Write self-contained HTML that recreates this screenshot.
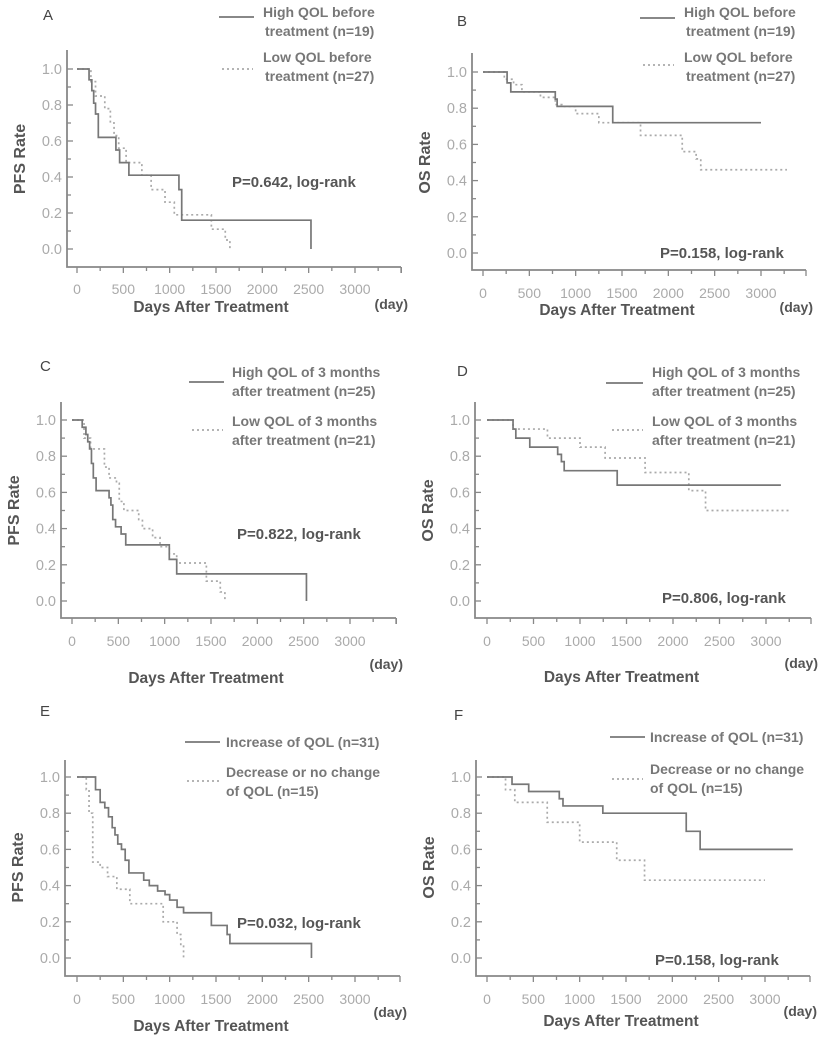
<!DOCTYPE html>
<html><head><meta charset="utf-8"><style>
body{margin:0;background:#fff}
svg{display:block;font-family:"Liberation Sans",sans-serif}
</style></head><body>
<svg id="fig" width="827" height="1038" viewBox="0 0 827 1038"></svg>
<script>
// ---- data ----
const xTicks=[0,500,1000,1500,2000,2500,3000];
const yTicks=[0.0,0.2,0.4,0.6,0.8,1.0];
const aHighT=[0,130,160,180,200,230,420,460,560,1100,1130,2525];
const aHighS=[1,0.94,0.88,0.81,0.75,0.62,0.55,0.48,0.41,0.33,0.16,0];
const aLowT=[0,150,200,300,360,400,450,530,700,800,950,1050,1450,1600,1650];
const aLowS=[1,0.93,0.85,0.78,0.7,0.63,0.56,0.48,0.41,0.33,0.26,0.19,0.11,0.05,0];
const bHighT=[0,260,300,780,800,1400];
const bHighS=[1,0.94,0.89,0.85,0.81,0.72];
const bLowT=[0,230,330,420,620,780,850,1000,1250,1700,2150,2300,2350];
const bLowS=[1,0.96,0.93,0.89,0.86,0.82,0.81,0.77,0.72,0.65,0.56,0.52,0.46];
const cHighT=[0,110,150,170,190,210,230,260,400,420,440,470,530,580,1050,1130,2530];
const cHighS=[1,0.96,0.92,0.88,0.84,0.76,0.68,0.61,0.57,0.53,0.45,0.41,0.37,0.31,0.23,0.15,0];
const cLowT=[0,130,200,350,400,480,510,560,720,760,870,950,1050,1130,1450,1600,1650];
const cLowS=[1,0.9,0.84,0.74,0.68,0.65,0.55,0.5,0.45,0.4,0.35,0.3,0.26,0.21,0.11,0.05,0];
const dHighT=[0,280,310,460,760,800,830,1400];
const dHighS=[1,0.95,0.9,0.85,0.81,0.77,0.72,0.64];
const dLowT=[0,280,650,1000,1270,1700,2170,2350];
const dLowS=[1,0.95,0.9,0.85,0.79,0.71,0.61,0.5];
const eHighT=[0,200,250,300,340,380,410,440,480,520,560,720,780,870,950,1000,1080,1150,1450,1620,1650,2530];
const eHighS=[1,0.93,0.86,0.83,0.78,0.72,0.68,0.63,0.6,0.54,0.47,0.43,0.4,0.37,0.35,0.32,0.28,0.25,0.18,0.13,0.08,0];
const eLowT=[0,100,130,170,250,330,430,570,930,1080,1120,1150];
const eLowS=[1,0.93,0.8,0.53,0.5,0.45,0.38,0.3,0.2,0.13,0.07,0];
const fHighT=[0,270,450,780,820,1250,2150,2300];
const fHighS=[1,0.96,0.92,0.88,0.84,0.8,0.7,0.6];
const fLowT=[0,200,300,650,1000,1400,1700];
const fLowS=[1,0.93,0.86,0.75,0.64,0.54,0.43];

const panels=[
 {id:'a',L:'A',lx:43,ly:15,ax:67,ay:267,top:50,xe:401,x0:77,x3:355,y1:69,y0:249,yt:'PFS Rate',
  hi:[aHighT,aHighS,null],lo:[aLowT,aLowS,null],
  leg:[[219,254,17,'High QOL before','treatment (n=19)',12],[222,253,69,'Low QOL before','treatment (n=27)',57]],lt:263,
  p:'P=0.642, log-rank',px:232,py:187,tl:294,tt:312,dy:309},
 {id:'b',L:'B',lx:457,ly:21,ax:472,ay:270,top:53,xe:806,x0:483,x3:761,y1:72,y0:253,yt:'OS Rate',
  hi:[bHighT,bHighS,3000],lo:[bLowT,bLowS,3280],
  leg:[[640,675,18,'High QOL before','treatment (n=19)',12],[643,674,65,'Low QOL before','treatment (n=27)',57]],lt:684,
  p:'P=0.158, log-rank',px:660,py:258,tl:298,tt:315,dy:312},
 {id:'c',L:'C',lx:40,ly:366,ax:61,ay:618,top:402,xe:396,x0:72,x3:350,y1:420,y0:601,yt:'PFS Rate',
  hi:[cHighT,cHighS,null],lo:[cLowT,cLowS,null],
  leg:[[189,224,382,'High QOL  of 3 months','after treatment (n=25)',372],[192,223,430,'Low QOL  of 3 months','after treatment (n=21)',421]],lt:232,
  p:'P=0.822, log-rank',px:237,py:539,tl:646,tt:683,dy:669},
 {id:'d',L:'D',lx:457,ly:371,ax:475,ay:618,top:402,xe:811,x0:487,x3:766,y1:420,y0:601,yt:'OS Rate',
  hi:[dHighT,dHighS,3160],lo:[dLowT,dLowS,3250],
  leg:[[606,643,383,'High QOL  of 3 months','after treatment (n=25)',372],[612,643,430,'Low QOL  of 3 months','after treatment (n=21)',421]],lt:652,
  p:'P=0.806, log-rank',px:662,py:603,tl:646,tt:682,dy:668},
 {id:'e',L:'E',lx:40,ly:711,ax:65,ay:976,top:760,xe:400,x0:77,x3:355,y1:777,y0:958,yt:'PFS Rate',
  hi:[eHighT,eHighS,null],lo:[eLowT,eLowS,null],
  leg:[[185,220,742,'Increase of QOL  (n=31)',null,742],[187,220,781,'Decrease or no change','of QOL   (n=15)',772]],lt:226,
  p:'P=0.032, log-rank',px:237,py:928,tl:1004,tt:1031,dy:1017},
 {id:'f',L:'F',lx:454,ly:715,ax:476,ay:976,top:760,xe:810,x0:487,x3:765,y1:777,y0:958,yt:'OS Rate',
  hi:[fHighT,fHighS,3300],lo:[fLowT,fLowS,3000],
  leg:[[610,645,737,'Increase of QOL  (n=31)',null,737],[612,643,779,'Decrease or no change','of QOL   (n=15)',769]],lt:650,
  p:'P=0.158, log-rank',px:655,py:965,tl:1004,tt:1026,dy:1016}
];
const NS='http://www.w3.org/2000/svg';
const svg=document.getElementById('fig');
function mk(tag,at,parent){const e=document.createElementNS(NS,tag);for(const k in at)e.setAttribute(k,at[k]);(parent||svg).appendChild(e);return e;}
function txt(s,at,parent){const e=mk('text',at,parent);e.textContent=s;return e;}
function stepPath(T,S,end,sx,sy){
  let d='M'+sx(T[0])+','+sy(S[0]);
  for(let i=1;i<T.length;i++){d+=' H'+sx(T[i])+' V'+sy(S[i]);}
  if(end!=null)d+=' H'+sx(end);
  return d;
}
panels.forEach(p=>{
  const g=mk('g',{});
  
  
  const sx=t=>p.x0+(t/3000)*(p.x3-p.x0);
  const sy=v=>p.y0-v*(p.y0-p.y1);
  const lab=txt(p.L,{x:p.lx,y:p.ly+5,'font-size':15,fill:'#444'},g);
  
  
  const ax=mk('path',{d:`M${p.ax},${p.top} V${p.ay} H${p.xe}`,stroke:'#888','stroke-width':1.8,fill:'none'},g);
  
  
  for(let t=0;t<=3500;t+=250){
    const x=sx(t); if(x>p.xe+1)break;
    mk('line',{x1:x,x2:x,y1:p.ay,y2:p.ay+(t%500===0?6:4),stroke:'#888','stroke-width':1.3},g);
  }
  mk('line',{x1:p.xe,x2:p.xe,y1:p.ay,y2:p.ay+6,stroke:'#888','stroke-width':1.3},g);
  xTicks.forEach(t=>{const e=txt(String(t),{x:sx(t),y:p.tl,'font-size':14,fill:'#aaa','text-anchor':'middle'},g);
    });
  for(let v=0;v<=10;v++){const y=sy(v/10);mk('line',{x1:p.ax,x2:p.ax+(v%2===0?6:4),y1:y,y2:y,stroke:'#888','stroke-width':1.3},g);}
  yTicks.forEach(v=>{const e=txt(v.toFixed(1),{x:p.ax-5,y:sy(v)+5,'font-size':14.5,fill:'#aaa','text-anchor':'end'},g);
    });
  const yt=txt(p.yt,{x:0,y:0,'font-size':16,'font-weight':'bold',fill:'#555','text-anchor':'middle',transform:`translate(${p.ax-42},${(p.y0+p.y1)/2}) rotate(-90)`},g);
  
  const xt=txt('Days After Treatment',{x:(p.x0+p.x3)/2-5,y:p.tt,'font-size':15.5,'font-weight':'bold',fill:'#555','text-anchor':'middle'},g);
  
  const du=txt('(day)',{x:p.xe+7,y:p.dy,'font-size':14,'font-weight':'bold',fill:'#555','text-anchor':'end'},g);
  
  const lo=mk('path',{d:stepPath(p.lo[0],p.lo[1],p.lo[2],sx,sy),stroke:'#aaa','stroke-width':1.7,fill:'none','stroke-dasharray':'2 3'},g);
  
  const hi=mk('path',{d:stepPath(p.hi[0],p.hi[1],p.hi[2],sx,sy),stroke:'#777','stroke-width':1.7,fill:'none'},g);
  
  p.leg.forEach((l,i)=>{
    const lg=mk('g',{},g);
    
    
    mk('line',{x1:l[0],x2:l[1],y1:l[2],y2:l[2],stroke:i?'#aaa':'#777','stroke-width':1.7,'stroke-dasharray':i?'2 3':'none'},lg);
    txt(l[3],{x:p.lt,y:l[5]+5,'font-size':14,'font-weight':'bold',fill:'#777'},lg);
    if(l[4])txt(l[4],{x:p.lt+(l[4].startsWith('of')||l[4].startsWith('after')?0:2),y:l[5]+24,'font-size':14,'font-weight':'bold',fill:'#777'},lg);
  });
  const pv=txt(p.p,{x:p.px,y:p.py,'font-size':15,'font-weight':'bold',fill:'#555'},g);
  
});
</script>
</body></html>
